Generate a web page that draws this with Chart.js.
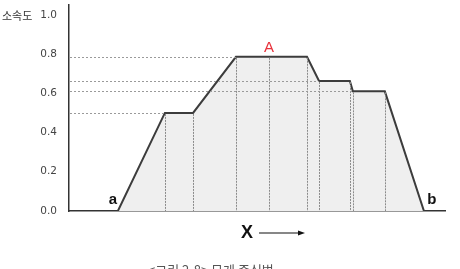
<!DOCTYPE html>
<html>
<head>
<meta charset="utf-8">
<script src="https://cdn.jsdelivr.net/npm/chart.js@4"></script>
<style>
  html, body { margin: 0; padding: 0; background: #fff; }
  #wrap { width: 460px; height: 269px; }
</style>
</head>
<body>
<div id="wrap"><canvas id="fuzzyChart"></canvas></div>
<script>
// membership function outline (x in arbitrary units 0..100, y = membership)
const xValues = [13.0, 25.5, 33.0, 44.4, 53.2, 63.3, 66.5, 74.7, 75.5, 84.0, 94.4];
const yValues = [0, 0.5, 0.5, 0.786, 0.786, 0.786, 0.663, 0.663, 0.61, 0.61, 0];
const yTicks = [0, 0.2, 0.4, 0.6, 0.8, 1.0];
const levelLines = [0.786, 0.663, 0.61, 0.5];
const levelEnds = [44.4, 66.5, 75.5, 25.5];

const points = xValues.map((x, i) => ({ x: x, y: yValues[i] }));

const overlay = {
    id: 'overlay',
    afterDatasetsDraw(chart) {
        const ctx = chart.ctx;
        const xs = chart.scales.x;
        const ys = chart.scales.y;
        const area = chart.chartArea;
        ctx.save();

        // vertical dotted lines under each inner vertex
        ctx.strokeStyle = '#8a8a8a';
        ctx.lineWidth = 1;
        ctx.setLineDash([2, 1]);
        for (let i = 1; i < xValues.length - 1; i++) {
            const px = Math.round(xs.getPixelForValue(xValues[i])) + 0.5;
            ctx.beginPath();
            ctx.moveTo(px, ys.getPixelForValue(yValues[i]) + 1);
            ctx.lineTo(px, ys.getPixelForValue(0));
            ctx.stroke();
        }

        // horizontal dashed level lines from the y axis
        ctx.strokeStyle = '#9a9a9a';
        ctx.setLineDash([2, 2]);
        levelLines.forEach((v, i) => {
            const py = Math.round(ys.getPixelForValue(v)) + 0.5;
            ctx.beginPath();
            ctx.moveTo(area.left + 1, py);
            ctx.lineTo(xs.getPixelForValue(levelEnds[i]), py);
            ctx.stroke();
        });
        ctx.setLineDash([]);

        // y tick labels
        ctx.textBaseline = 'middle';
        ctx.textAlign = 'right';
        ctx.fillStyle = '#444';
        ctx.font = '10.5px "DejaVu Sans", sans-serif';
        yTicks.forEach(v => {
            ctx.fillText(v.toFixed(1), area.left - 12, ys.getPixelForValue(v));
        });

        // labels
        ctx.textAlign = 'center';
        ctx.fillStyle = '#e8323c';
        ctx.font = '15px "Liberation Sans", Arial, sans-serif';
        ctx.fillText('A', xs.getPixelForValue(53.2), ys.getPixelForValue(0.786) - 9);

        ctx.fillStyle = '#111';
        ctx.font = 'bold 15px "Liberation Sans", Arial, sans-serif';
        ctx.fillText('a', xs.getPixelForValue(xValues[0]) - 5, ys.getPixelForValue(0) - 11);
        ctx.fillText('b', xs.getPixelForValue(xValues[xValues.length - 1]) + 8, ys.getPixelForValue(0) - 11);

        ctx.font = 'bold 18px "Liberation Sans", Arial, sans-serif';
        ctx.fillText('X', 247, 233);
        ctx.strokeStyle = '#111';
        ctx.lineWidth = 1.2;
        ctx.beginPath();
        ctx.moveTo(259, 233);
        ctx.lineTo(300, 233);
        ctx.stroke();
        ctx.beginPath();
        ctx.moveTo(305, 233);
        ctx.lineTo(298, 230.5);
        ctx.lineTo(298, 235.5);
        ctx.closePath();
        ctx.fill();

        ctx.textAlign = 'left';
        ctx.fillStyle = '#333';
        ctx.font = '11px "Noto Sans CJK KR", sans-serif';
        ctx.fillText('소속도', 2, 16);

        ctx.fillStyle = '#555';
        ctx.font = '13px "Noto Sans CJK KR", serif';
        ctx.textBaseline = 'top';
        ctx.fillText('<그림 2-8> 무게 중심법', 148, 264);
        ctx.restore();
    }
};

new Chart(document.getElementById('fuzzyChart'), {
    type: 'line',
    data: {
        datasets: [{
            data: points,
            borderColor: '#3c3c3c',
            borderWidth: 2,
            backgroundColor: '#efefef',
            fill: 'origin',
            pointRadius: 0,
            tension: 0
        }]
    },
    options: {
        responsive: true,
        maintainAspectRatio: false,
        animation: false,
        layout: { padding: { top: 5, right: 15, bottom: 0, left: 0 } },
        plugins: { legend: { display: false }, tooltip: { enabled: false } },
        scales: {
            x: {
                type: 'linear',
                min: 0,
                max: 100,
                ticks: { display: false },
                grid: { display: false, drawTicks: false },
                border: { color: '#333', width: 1.5 },
                afterFit(s) { s.height = 58; }
            },
            y: {
                min: 0,
                max: 1.05,
                afterBuildTicks(s) { s.ticks = yTicks.map(v => ({ value: v })); },
                ticks: { display: false },
                grid: { display: false, drawTicks: false },
                border: { color: '#333', width: 1.5 },
                afterFit(s) { s.width = 69; }
            }
        }
    },
    plugins: [overlay]
});
</script>
</body>
</html>
